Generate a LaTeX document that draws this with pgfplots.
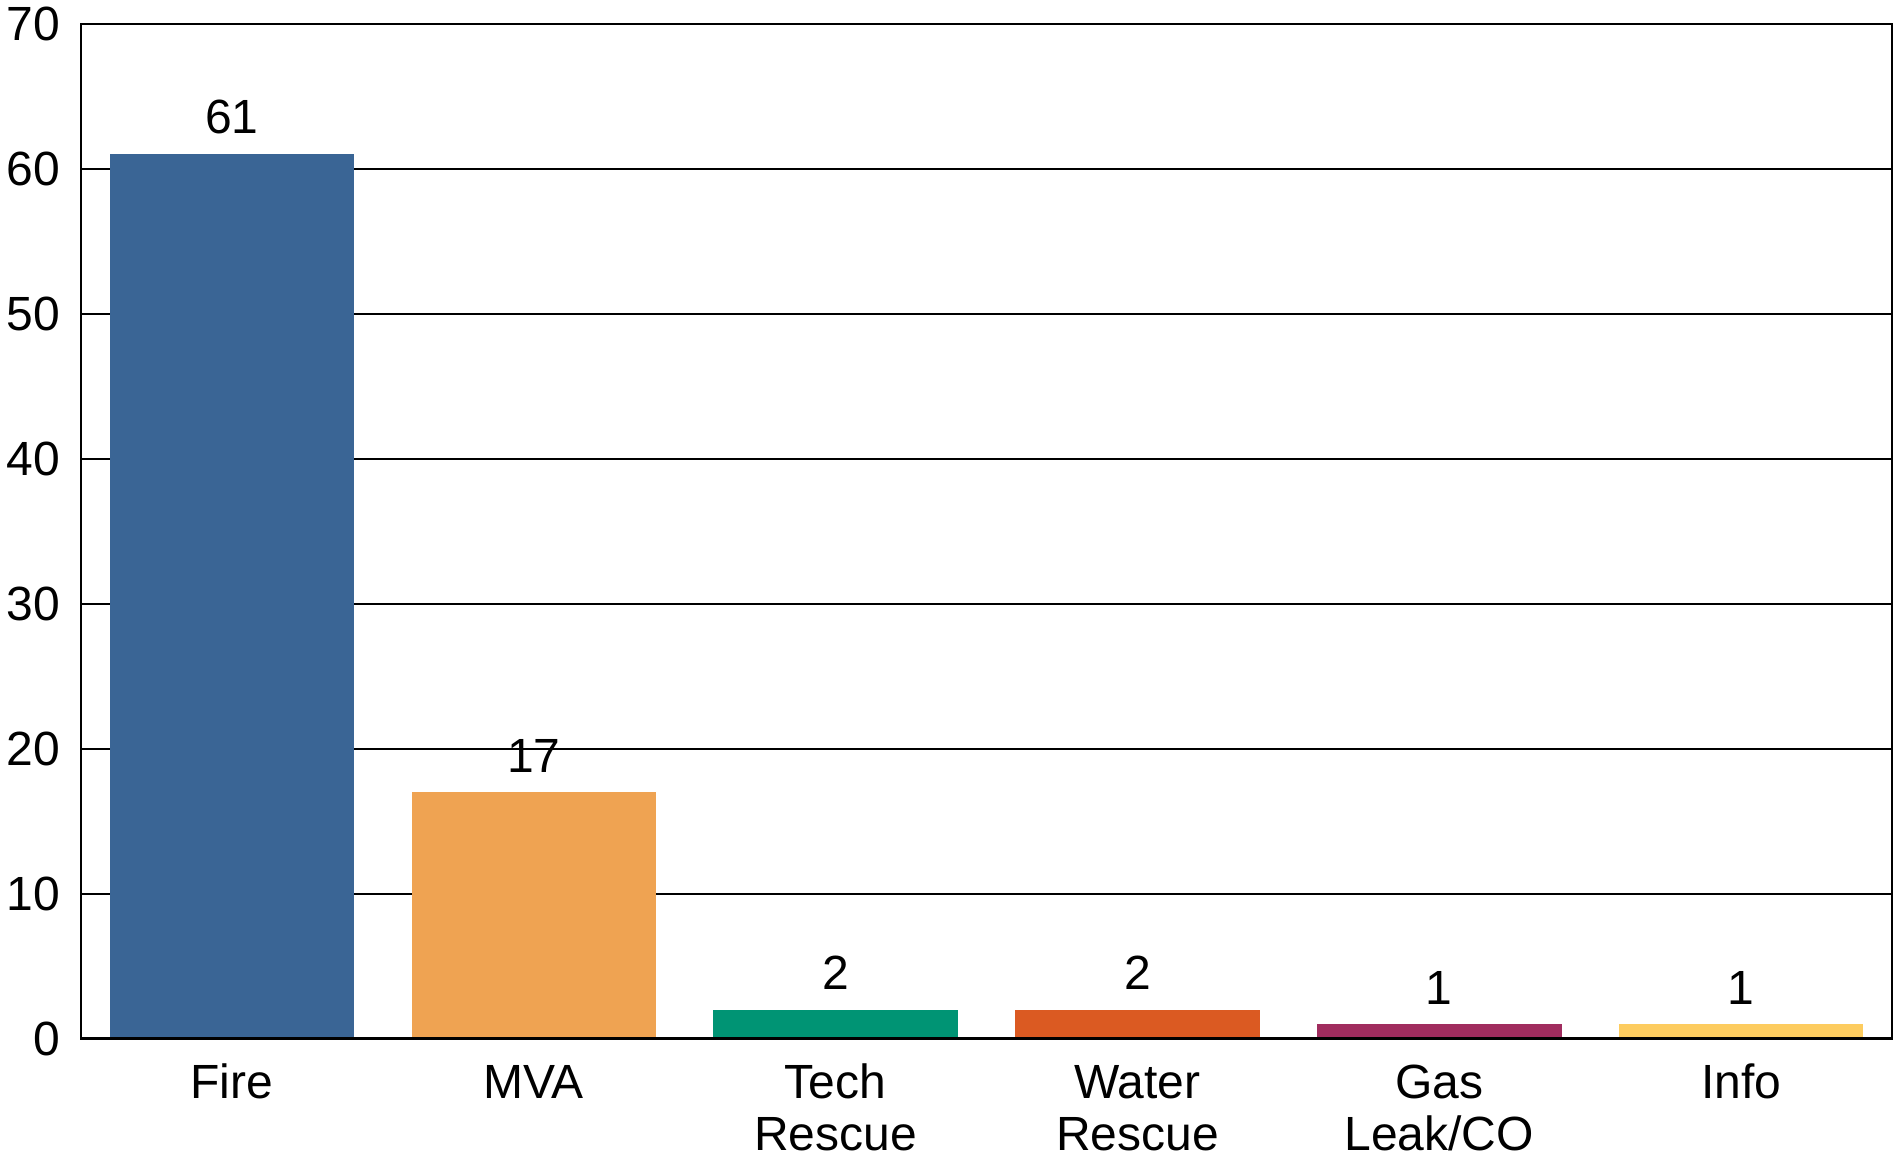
\documentclass[border=0pt]{standalone}
\usepackage{pgfplots}
\pgfplotsset{compat=1.18}
\usepackage{fontspec}
\setmainfont{Liberation Sans}
\definecolor{cFire}{HTML}{3A6595}
\definecolor{cMVA}{HTML}{EFA352}
\definecolor{cTech}{HTML}{009474}
\definecolor{cWater}{HTML}{DB5A22}
\definecolor{cGas}{HTML}{A02C5E}
\definecolor{cInfo}{HTML}{FDCC5F}
\begin{document}
\begin{tikzpicture}
\begin{axis}[
  name=ax,
  scale only axis,
  width=452.75pt, height=253.75pt,
  xmin=-0.5, xmax=5.5, ymin=0, ymax=70,
  ytick={0,10,20,30,40,50,60,70},
  xtick={0,1,2,3,4,5},
  xticklabels={\strut Fire,\strut MVA,\strut Tech\\Rescue,\strut Water\\Rescue,\strut Gas\\Leak/CO,\strut Info},
  tick style={draw=none},
  /pgf/number format/assume math mode=true,
  tick label style={font=\fontsize{12}{13}\selectfont},
  xticklabel style={align=center, anchor=north, inner sep=0pt, yshift=-1.4pt},
  yticklabel style={anchor=east, inner sep=0pt, xshift=-5pt},
  ymajorgrids,
  grid style={black, line width=0.5pt},
  axis line style={black, line width=0.7pt},
  ybar, bar width=0.81, bar shift=0pt,
  nodes near coords,
  every node near coord/.append style={font=\fontsize{12}{13}\selectfont, black, yshift=1.5pt},
]
\addplot[fill=cFire, draw=none] coordinates {(0,61)};
\addplot[fill=cMVA, draw=none] coordinates {(1,17)};
\addplot[fill=cTech, draw=none] coordinates {(2,2)};
\addplot[fill=cWater, draw=none] coordinates {(3,2)};
\addplot[fill=cGas, draw=none] coordinates {(4,1)};
\addplot[fill=cInfo, draw=none] coordinates {(5,1)};
\draw[black, line width=1.2pt] (rel axis cs:0,0) -- (rel axis cs:1,0);
\end{axis}
\path ([xshift=-20.25pt,yshift=-30pt]ax.south west) rectangle ([xshift=2.5pt,yshift=6pt]ax.north east);
\end{tikzpicture}
\end{document}
